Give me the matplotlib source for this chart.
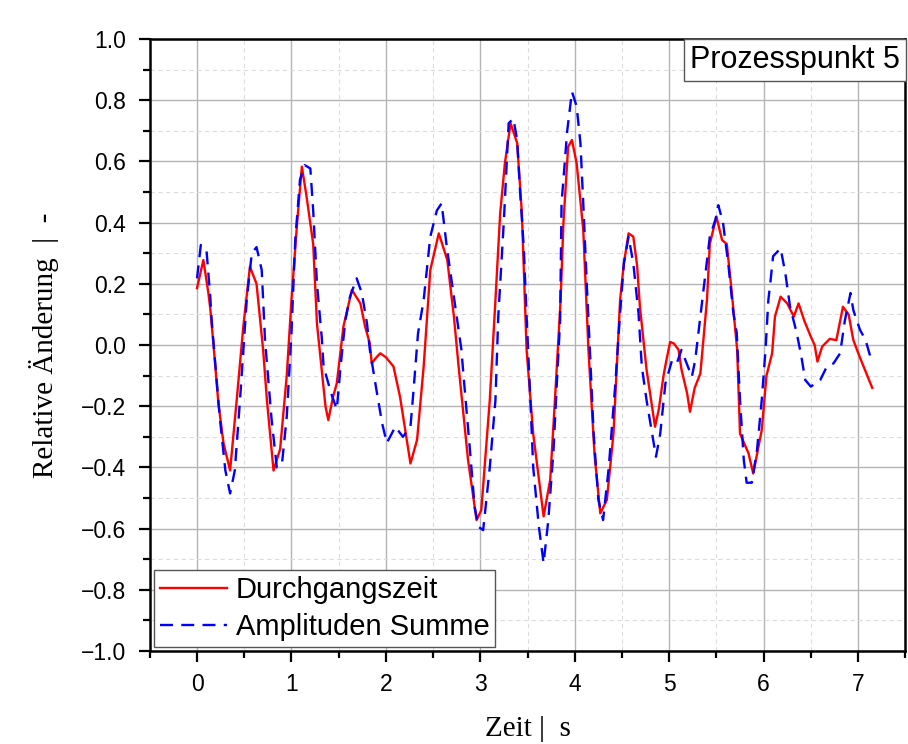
import matplotlib
matplotlib.use("Agg")
import matplotlib.pyplot as plt
from matplotlib.ticker import MultipleLocator, FuncFormatter
import numpy as np

# Durchgangszeit (red)
t_dz = [0.0, 0.067, 0.12, 0.14, 0.18, 0.226, 0.28, 0.35, 0.42, 0.49, 0.56, 0.63, 0.70, 0.74,
        0.81, 0.88, 0.95, 1.0, 1.06, 1.11, 1.16, 1.23, 1.27, 1.32, 1.36, 1.39, 1.44, 1.48, 1.55,
        1.64, 1.73, 1.78, 1.83, 1.85, 1.90, 1.94, 2.00, 2.08, 2.15, 2.26, 2.33, 2.40, 2.47, 2.56,
        2.65, 2.72, 2.77, 2.87, 2.96, 3.01, 3.10, 3.16, 3.21, 3.26, 3.32, 3.39, 3.44, 3.49, 3.56,
        3.67, 3.74, 3.79, 3.85, 3.88, 3.93, 3.97, 4.02, 4.09, 4.145, 4.21, 4.27, 4.34, 4.41, 4.48,
        4.52, 4.57, 4.62, 4.66, 4.69, 4.76, 4.85, 4.89, 4.94, 4.97, 5.01, 5.05, 5.10, 5.13, 5.19,
        5.22, 5.27, 5.33, 5.40, 5.43, 5.50, 5.56, 5.61, 5.66, 5.72, 5.75, 5.84, 5.89, 5.98, 6.03,
        6.09, 6.12, 6.18, 6.25, 6.32, 6.37, 6.43, 6.50, 6.54, 6.57, 6.62, 6.70, 6.77, 6.84, 6.90,
        6.95, 7.01, 7.15]
v_dz = [0.186, 0.278, 0.17, 0.12, -0.02, -0.19, -0.32, -0.41, -0.18, 0.06, 0.256, 0.20, -0.016,
        -0.18, -0.41, -0.34, -0.10, 0.147, 0.40, 0.583, 0.485, 0.33, 0.07, -0.08, -0.20, -0.245,
        -0.17, -0.125, 0.06, 0.18, 0.136, 0.06, 0.005, -0.06, -0.04, -0.027, -0.04, -0.07, -0.17,
        -0.387, -0.31, -0.07, 0.245, 0.365, 0.278, 0.093, -0.07, -0.376, -0.572, -0.54, -0.18,
        0.147, 0.43, 0.594, 0.725, 0.66, 0.43, -0.016, -0.29, -0.56, -0.44, -0.18, 0.147, 0.40,
        0.648, 0.67, 0.594, 0.376, -0.016, -0.36, -0.55, -0.506, -0.29, 0.147, 0.267, 0.365,
        0.354, 0.26, 0.125, -0.08, -0.267, -0.21, -0.10, -0.05, 0.01, 0.005, -0.016, -0.08,
        -0.158, -0.218, -0.14, -0.093, 0.147, 0.33, 0.42, 0.343, 0.33, 0.18, -0.016, -0.29,
        -0.354, -0.42, -0.278, -0.10, -0.027, 0.093, 0.158, 0.136, 0.093, 0.136, 0.08, 0.027,
        0.0, -0.054, -0.005, 0.02, 0.016, 0.125, 0.10, 0.016, -0.033, -0.14]

# Amplituden Summe (blue dashed)
t_as = [0.0, 0.04, 0.10, 0.14, 0.155, 0.24, 0.30, 0.35, 0.40, 0.455, 0.526, 0.58, 0.63, 0.685,
        0.72, 0.79, 0.845, 0.90, 0.95, 1.0, 1.04, 1.09, 1.14, 1.20, 1.23, 1.27, 1.32, 1.34, 1.42,
        1.48, 1.52, 1.57, 1.62, 1.69, 1.745, 1.80, 1.83, 1.90, 1.96, 2.01, 2.10, 2.18, 2.26, 2.29,
        2.34, 2.40, 2.47, 2.54, 2.59, 2.645, 2.73, 2.80, 2.82, 2.89, 2.94, 2.98, 3.03, 3.10, 3.16,
        3.19, 3.25, 3.30, 3.35, 3.39, 3.42, 3.46, 3.49, 3.53, 3.56, 3.62, 3.67, 3.72, 3.775, 3.81,
        3.845, 3.86, 3.92, 3.97, 4.02, 4.06, 4.09, 4.13, 4.16, 4.20, 4.25, 4.30, 4.36, 4.43, 4.48,
        4.52, 4.57, 4.62, 4.675, 4.71, 4.76, 4.82, 4.86, 4.905, 4.96, 5.03, 5.08, 5.13, 5.185,
        5.24, 5.275, 5.33, 5.38, 5.43, 5.49, 5.52, 5.57, 5.625, 5.68, 5.715, 5.75, 5.79, 5.82,
        5.875, 5.93, 5.98, 6.02, 6.05, 6.07, 6.10, 6.18, 6.23, 6.28, 6.35, 6.40, 6.44, 6.50, 6.55,
        6.60, 6.67, 6.74, 6.81, 6.86, 6.92, 6.95, 7.02, 7.08, 7.15]
v_as = [0.218, 0.327, 0.31, 0.158, 0.08, -0.234, -0.41, -0.485, -0.41, -0.18, 0.147, 0.30, 0.32,
        0.245, 0.016, -0.245, -0.40, -0.387, -0.234, 0.04, 0.343, 0.54, 0.588, 0.577, 0.44, 0.20,
        0.027, -0.07, -0.158, -0.21, -0.07, 0.08, 0.158, 0.218, 0.17, 0.07, -0.016, -0.147, -0.256,
        -0.32, -0.267, -0.30, -0.267, -0.158, 0.038, 0.147, 0.354, 0.44, 0.463, 0.32, 0.136, -0.016,
        -0.093, -0.343, -0.53, -0.594, -0.605, -0.40, -0.18, 0.093, 0.41, 0.725, 0.74, 0.67, 0.506,
        0.32, 0.093, -0.18, -0.40, -0.594, -0.713, -0.572, -0.343, -0.125, 0.08, 0.463, 0.70, 0.828,
        0.78, 0.66, 0.463, 0.18, -0.016, -0.29, -0.506, -0.572, -0.40, -0.125, 0.104, 0.267, 0.354,
        0.267, 0.104, -0.07, -0.18, -0.29, -0.365, -0.29, -0.125, -0.05, -0.06, -0.016, -0.06,
        -0.104, -0.05, 0.093, 0.223, 0.354, 0.41, 0.457, 0.40, 0.267, 0.104, 0.04, -0.18, -0.376,
        -0.45, -0.45, -0.343, -0.18, -0.016, 0.147, 0.20, 0.29, 0.316, 0.234, 0.125, 0.04, -0.038,
        -0.114, -0.136, -0.125, -0.114, -0.07, -0.06, -0.027, 0.08, 0.17, 0.114, 0.05, 0.016, -0.06]

sans = ['Liberation Sans', 'DejaVu Sans']
serif = ['Liberation Serif', 'DejaVu Serif']

fig = plt.figure(figsize=(9.08, 7.44), dpi=100)
ax = fig.add_axes([0.165, 0.125, 0.832, 0.8225])

ax.plot(t_dz, v_dz, color='#ff0000', lw=1.7, label='Durchgangszeit', zorder=3)
ax.plot(t_as, v_as, color='#0000ff', lw=1.7, ls=(0, (5.5, 3.5)), label='Amplituden Summe', zorder=3)

ax.set_xlim(-0.5, 7.5)
ax.set_ylim(-1.0, 1.0)
ax.xaxis.set_major_locator(MultipleLocator(1))
ax.xaxis.set_minor_locator(MultipleLocator(0.5))
ax.yaxis.set_major_locator(MultipleLocator(0.2))
ax.yaxis.set_minor_locator(MultipleLocator(0.1))
ax.yaxis.set_major_formatter(FuncFormatter(lambda v, p: f'{v:.1f}'.replace('-', '\u2212')))

ax.grid(which='major', color='#b4b4b4', lw=1.0, ls='-', zorder=0)
ax.grid(which='minor', color='#dcdcdc', lw=0.8, ls=(0, (4, 3)), zorder=0)
ax.set_axisbelow(True)

for s in ax.spines.values():
    s.set_linewidth(1.8)
ax.tick_params(which='major', direction='out', length=8, width=1.6, labelsize=16.5)
ax.tick_params(which='minor', direction='out', length=5, width=1.6)
ax.tick_params(axis='y', which='major', pad=9)
ax.tick_params(axis='x', which='major', pad=8)
for lab in ax.get_xticklabels() + ax.get_yticklabels():
    lab.set_family(sans)

ax.set_xlabel('Zeit |  s', fontsize=21, family=serif, labelpad=14)
ax.set_ylabel('Relative Änderung  |  -', fontsize=21, family=serif, labelpad=16)

leg = ax.legend(loc='lower left', prop={'family': sans, 'size': 21}, fancybox=False,
                framealpha=1, edgecolor='#555555', borderaxespad=0.15, handlelength=2.3,
                handletextpad=0.3, borderpad=0.2, labelspacing=0.3)
leg.get_frame().set_linewidth(1.0)

ax.text(0.993, 0.99, 'Prozesspunkt 5', transform=ax.transAxes, ha='right', va='top',
        fontsize=22, family=sans,
        bbox=dict(boxstyle='square,pad=0.2', fc='white', ec='#555555', lw=1.0))

fig.savefig('out.png', dpi=100)
